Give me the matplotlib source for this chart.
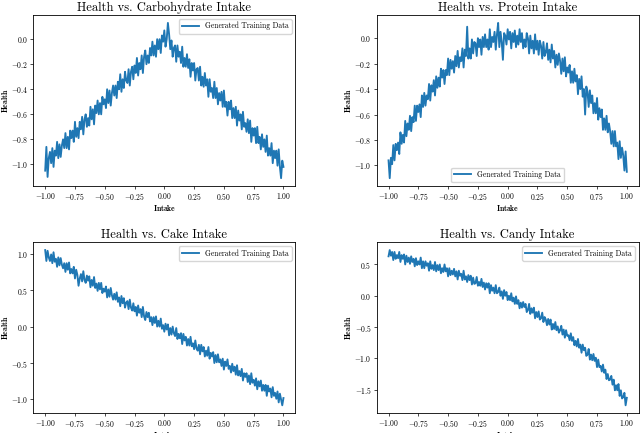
import numpy as np
import matplotlib
matplotlib.use('Agg')
import matplotlib.pyplot as plt
import matplotlib.ticker as ticker

plt.rcParams['font.family'] = 'serif'
plt.rcParams['font.serif'] = ['cmr10']
plt.rcParams['mathtext.fontset'] = 'cm'
plt.rcParams['axes.formatter.use_mathtext'] = True

# intake grid, step 0.01 from -1 to 1
intake = np.linspace(-1, 1, 201)

# health values
carb_health = [
    -1.05, -0.86, -1.10, -0.95, -0.90, -0.99, -0.87, -1.02, -0.89, -0.93,
    -0.82, -0.95, -0.84, -0.94, -0.85, -0.80, -0.87, -0.75, -0.87, -0.78,
    -0.88, -0.73, -0.79, -0.73, -0.82, -0.66, -0.78, -0.71, -0.79, -0.66,
    -0.72, -0.62, -0.76, -0.64, -0.60, -0.70, -0.63, -0.69, -0.54, -0.64,
    -0.56, -0.68, -0.53, -0.59, -0.49, -0.60, -0.51, -0.60, -0.46, -0.52,
    -0.48, -0.55, -0.40, -0.51, -0.41, -0.53, -0.43, -0.37, -0.45, -0.37,
    -0.47, -0.34, -0.40, -0.28, -0.42, -0.32, -0.39, -0.26, -0.33, -0.35,
    -0.24, -0.37, -0.26, -0.22, -0.32, -0.21, -0.27, -0.15, -0.29, -0.19,
    -0.24, -0.13, -0.27, -0.14, -0.09, -0.20, -0.13, -0.19, -0.07, -0.13,
    -0.02, -0.13, -0.05, -0.14, 0.00, -0.08, 0.00, -0.11, 0.03, -0.02,
    0.07, -0.06, 0.00, 0.13, 0.04, -0.08, -0.01, -0.14, -0.07, -0.05,
    -0.18, -0.05, -0.14, -0.10, -0.19, -0.06, -0.22, -0.15, -0.22, -0.12,
    -0.23, -0.16, -0.30, -0.19, -0.25, -0.19, -0.33, -0.24, -0.23, -0.33,
    -0.22, -0.37, -0.30, -0.38, -0.27, -0.37, -0.32, -0.46, -0.32, -0.42,
    -0.39, -0.47, -0.34, -0.47, -0.39, -0.52, -0.43, -0.49, -0.42, -0.54,
    -0.41, -0.54, -0.50, -0.61, -0.50, -0.56, -0.49, -0.63, -0.55, -0.63,
    -0.54, -0.69, -0.57, -0.65, -0.60, -0.72, -0.58, -0.70, -0.67, -0.74,
    -0.64, -0.75, -0.65, -0.82, -0.71, -0.77, -0.71, -0.83, -0.70, -0.83,
    -0.78, -0.88, -0.76, -0.86, -0.80, -0.90, -0.77, -0.93, -0.87, -0.93,
    -0.83, -0.99, -0.89, -0.95, -0.89, -1.01, -0.88, -1.02, -1.11, -0.97,
    -1.02]

protein_health = [
    -0.96, -1.10, -0.94, -0.99, -0.84, -0.96, -0.83, -0.88, -0.82, -0.91,
    -0.74, -0.83, -0.76, -0.82, -0.65, -0.77, -0.67, -0.72, -0.61, -0.73,
    -0.62, -0.66, -0.53, -0.65, -0.53, -0.58, -0.52, -0.62, -0.45, -0.54,
    -0.43, -0.53, -0.45, -0.48, -0.36, -0.49, -0.37, -0.42, -0.33, -0.45,
    -0.30, -0.39, -0.31, -0.38, -0.24, -0.31, -0.25, -0.36, -0.25, -0.29,
    -0.16, -0.29, -0.17, -0.24, -0.18, -0.27, -0.14, -0.22, -0.10, -0.23,
    -0.15, -0.18, -0.08, -0.23, -0.09, -0.14, 0.09, -0.16, -0.08, -0.16,
    -0.01, -0.12, -0.03, -0.04, -0.14, 0.00, -0.07, -0.01, -0.13, 0.01,
    -0.07, 0.03, -0.07, -0.01, -0.09, 0.07, -0.07, 0.01, -0.03, 0.05,
    -0.09, 0.03, 0.12, -0.07, 0.05, -0.03, -0.17, 0.04, 0.02, -0.05,
    0.07, -0.01, 0.05, -0.08, 0.04, -0.03, 0.06, -0.07, 0.02, -0.05,
    0.07, -0.03, 0.04, -0.08, -0.01, -0.07, 0.04, 0.00, -0.12, 0.02,
    -0.08, -0.02, -0.12, 0.03, -0.09, -0.02, -0.13, -0.02, -0.06, -0.16,
    -0.03, -0.14, -0.11, -0.04, -0.17, -0.09, -0.19, -0.05, -0.16, -0.10,
    -0.23, -0.13, -0.21, -0.12, -0.18, -0.28, -0.16, -0.26, -0.15, -0.30,
    -0.23, -0.27, -0.21, -0.35, -0.26, -0.35, -0.24, -0.34, -0.29, -0.44,
    -0.32, -0.40, -0.30, -0.46, -0.40, -0.60, -0.38, -0.42, -0.54, -0.41,
    -0.51, -0.45, -0.59, -0.51, -0.59, -0.47, -0.64, -0.55, -0.62, -0.56,
    -0.72, -0.63, -0.72, -0.61, -0.74, -0.67, -0.73, -0.83, -0.73, -0.85,
    -0.73, -0.85, -0.82, -0.95, -0.81, -0.94, -0.86, -0.92, -1.04, -0.89,
    -1.05]

cake_health = [
    1.05, 0.90, 1.04, 0.95, 0.90, 0.99, 0.87, 1.02, 0.89, 0.93,
    0.82, 0.95, 0.84, 0.94, 0.85, 0.80, 0.87, 0.75, 0.87, 0.78,
    0.88, 0.73, 0.79, 0.73, 0.82, 0.66, 0.78, 0.71, 0.56, 0.66,
    0.72, 0.62, 0.76, 0.64, 0.60, 0.70, 0.63, 0.69, 0.54, 0.64,
    0.56, 0.68, 0.53, 0.59, 0.49, 0.60, 0.51, 0.60, 0.46, 0.52,
    0.48, 0.55, 0.40, 0.51, 0.41, 0.53, 0.43, 0.37, 0.45, 0.37,
    0.47, 0.34, 0.40, 0.28, 0.42, 0.32, 0.39, 0.26, 0.33, 0.35,
    0.24, 0.37, 0.26, 0.22, 0.32, 0.21, 0.27, 0.15, 0.29, 0.19,
    0.24, 0.13, 0.27, 0.14, 0.09, 0.20, 0.13, 0.19, 0.07, 0.13,
    0.02, 0.13, 0.05, 0.14, 0.00, 0.08, 0.00, 0.11, -0.03, 0.02,
    -0.07, 0.04, -0.04, 0.03, -0.12, -0.02, -0.11, 0.00, -0.09, -0.13,
    -0.02, -0.17, -0.10, -0.16, -0.09, -0.24, -0.10, -0.19, -0.14, -0.26,
    -0.17, -0.26, -0.14, -0.27, -0.23, -0.31, -0.19, -0.30, -0.33, -0.25,
    -0.38, -0.25, -0.34, -0.28, -0.41, -0.33, -0.40, -0.28, -0.44, -0.36,
    -0.41, -0.35, -0.50, -0.39, -0.49, -0.38, -0.49, -0.45, -0.54, -0.44,
    -0.59, -0.48, -0.54, -0.45, -0.58, -0.54, -0.63, -0.51, -0.61, -0.55,
    -0.66, -0.53, -0.67, -0.61, -0.68, -0.58, -0.74, -0.64, -0.69, -0.64,
    -0.76, -0.67, -0.79, -0.64, -0.77, -0.73, -0.81, -0.71, -0.86, -0.75,
    -0.82, -0.74, -0.88, -0.80, -0.88, -0.80, -0.95, -0.81, -0.89, -0.85,
    -0.97, -0.83, -0.95, -0.91, -0.99, -0.89, -1.04, -0.92, -1.00, -1.08,
    -0.98]

candy_health = [
    0.63, 0.73, 0.64, 0.70, 0.57, 0.70, 0.59, 0.65, 0.60, 0.70,
    0.54, 0.65, 0.59, 0.66, 0.50, 0.64, 0.54, 0.61, 0.51, 0.63,
    0.54, 0.59, 0.47, 0.60, 0.49, 0.55, 0.50, 0.61, 0.44, 0.55,
    0.44, 0.55, 0.48, 0.52, 0.40, 0.55, 0.43, 0.49, 0.41, 0.54,
    0.39, 0.49, 0.41, 0.50, 0.36, 0.44, 0.38, 0.50, 0.39, 0.44,
    0.31, 0.44, 0.33, 0.40, 0.34, 0.43, 0.31, 0.39, 0.26, 0.40,
    0.32, 0.35, 0.25, 0.40, 0.26, 0.31, 0.22, 0.33, 0.25, 0.32,
    0.18, 0.29, 0.19, 0.20, 0.30, 0.16, 0.22, 0.16, 0.27, 0.14,
    0.21, 0.10, 0.20, 0.13, 0.20, 0.04, 0.17, 0.08, 0.13, 0.04,
    0.17, 0.04, 0.06, 0.13, 0.00, 0.07, -0.05, 0.09, 0.00, 0.06,
    -0.07, 0.00, -0.07, 0.04, -0.09, -0.03, -0.13, -0.01, -0.13, -0.07,
    -0.20, -0.11, -0.19, -0.10, -0.18, -0.13, -0.26, -0.23, -0.13, -0.29,
    -0.20, -0.27, -0.19, -0.36, -0.26, -0.34, -0.25, -0.38, -0.36, -0.27,
    -0.42, -0.34, -0.38, -0.47, -0.37, -0.46, -0.38, -0.54, -0.45, -0.53,
    -0.42, -0.55, -0.49, -0.59, -0.55, -0.48, -0.62, -0.54, -0.67, -0.55,
    -0.64, -0.63, -0.71, -0.60, -0.72, -0.66, -0.79, -0.72, -0.81, -0.69,
    -0.83, -0.78, -0.91, -0.78, -0.87, -0.83, -0.96, -0.94, -0.85, -1.02,
    -0.94, -1.03, -0.93, -1.04, -0.99, -1.14, -1.02, -1.14, -1.12, -1.21,
    -1.10, -1.23, -1.18, -1.33, -1.25, -1.35, -1.34, -1.28, -1.42, -1.34,
    -1.51, -1.43, -1.51, -1.41, -1.60, -1.51, -1.64, -1.62, -1.55, -1.75,
    -1.63]

titles = ['Health vs. Carbohydrate Intake', 'Health vs. Protein Intake',
          'Health vs. Cake Intake', 'Health vs. Candy Intake']
legend_locs = ['upper right', 'lower center', 'upper right', 'upper right']
series = [carb_health, protein_health, cake_health, candy_health]

fig, axes = plt.subplots(2, 2, figsize=(6.4, 4.33), dpi=100)
fig.subplots_adjust(left=0.052, right=0.998, top=0.965, bottom=0.046,
                    wspace=0.31, hspace=0.33)

for ax, y, title, loc in zip(axes.flat, series, titles, legend_locs):
    ax.plot(intake, y, color='#1f77b4', linewidth=1.35, label='Generated Training Data')
    ax.set_title(title, fontsize=9, pad=3)
    ax.set_xlabel(r'$\mathbf{Intake}$', fontsize=5.5, labelpad=1)
    ax.set_ylabel(r'$\mathbf{Health}$', fontsize=5.5, labelpad=1)
    ax.xaxis.set_major_locator(ticker.MultipleLocator(0.25))
    ax.tick_params(labelsize=5.5, length=2, width=0.5, pad=1.5)
    for s in ax.spines.values():
        s.set_linewidth(0.6)
    ax.legend(loc=loc, fontsize=5.5, frameon=True, handlelength=2.2)

fig.savefig('out.png')
